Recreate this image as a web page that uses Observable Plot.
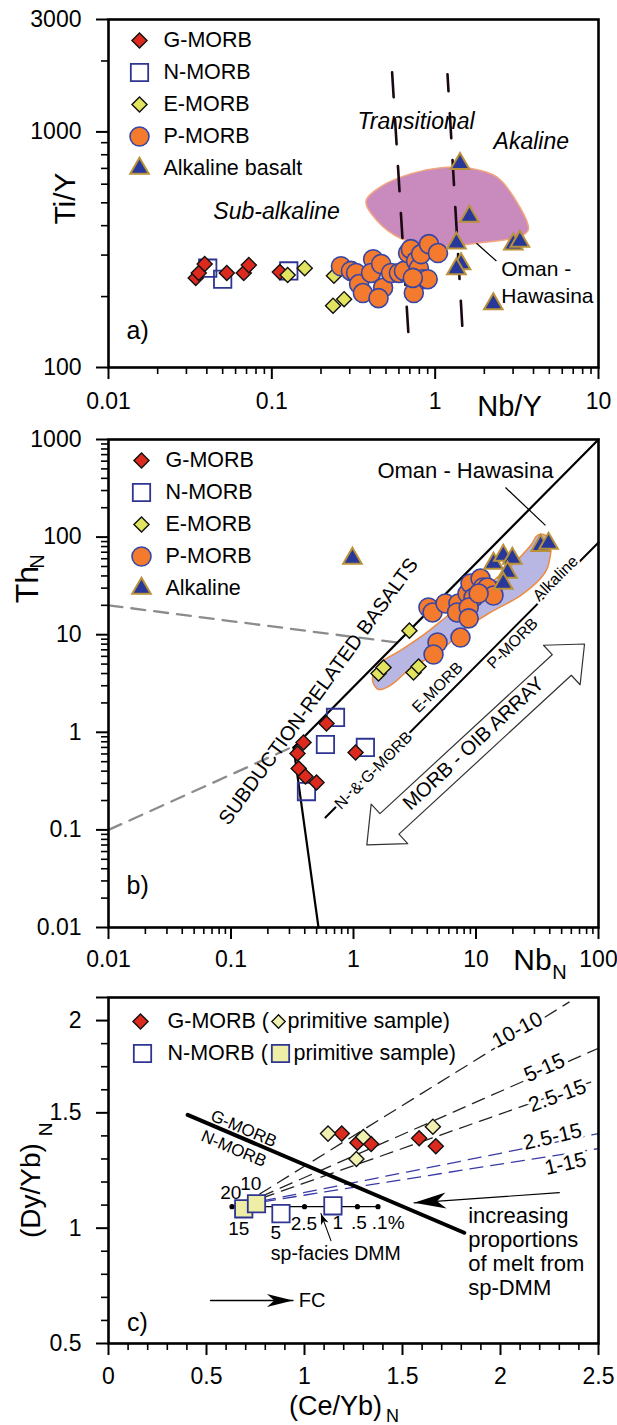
<!DOCTYPE html>
<html>
<head>
<meta charset="utf-8">
<script src="https://cdn.jsdelivr.net/npm/d3@7"></script>
<script src="https://cdn.jsdelivr.net/npm/@observablehq/plot@0.6"></script>
<style>
  html, body { margin: 0; padding: 0; background: #fff; }
  #chart { width: 617px; }
  #chart svg { display: block; }
</style>
</head>
<body>
<div id="chart"></div>
<script>
// ================= DATA =================
// ---- Panel a: Nb/Y (x) vs Ti/Y (y) ----
const aGMorb = [[0.0342,240],[0.0357,252],[0.0388,275],[0.053,252],[0.0673,252],[0.0723,272],[0.112,254]];
const aNMorb = [[0.0405,264],[0.050,237],[0.127,257]];
const aEMorb = [[0.125,247],[0.159,264],[0.240,245],[0.237,183],[0.277,195]];
const aPMorb = [[0.265,269],[0.305,257],[0.328,252],[0.342,226],[0.361,207],[0.417,288],[0.405,252],[0.467,275],
                [0.48,218],[0.45,197],[0.537,252],[0.60,252],[0.644,257],[0.683,306],[0.71,318],[0.764,283],
                [0.795,264],[0.82,303],[0.84,237],[0.74,207],[0.90,237],[0.916,334],[1.04,306],[0.73,240]];
const aAlkaline = [[1.42,733],[1.62,438],[1.35,337],[1.44,275],[1.35,262],[2.27,186],[3.01,334],[3.3,343]];
const aOmanField = [[0.377,507],[0.466,586],[0.713,665],[1.09,705],[1.66,700],[2.37,646],[3.01,532],[3.72,386],
                    [3.35,361],[1.79,337],[1.09,327],[0.618,353],[0.434,425]];
const aDividerLeft = [[0.545,1790],[0.693,124]];
const aDividerRight = [[1.19,1757],[1.48,134]];
const aOmanLeader = [{x1:1.79, y1:337, x2:2.37, y2:283}];
const aFieldLabels = [{x:0.764, y:1103, text:"Transitional"},{x:3.88, y:908, text:"Akaline"},{x:0.107, y:460, text:"Sub-alkaline"}];
const aOmanLabels = [{x:2.54, y:262, text:"Oman -"},{x:2.54, y:201, text:"Hawasina"}];
const aPanelLabel = [{x:0.0151, y:143, text:"a)"}];
const aXTicks = [0.01, 0.1, 1, 10];
const aYTicks = [100, 1000, 3000];
const aLegend = ["G-MORB","N-MORB","E-MORB","P-MORB","Alkaline basalt"];

// ---- Panel b: Nb_N (x) vs Th_N (y) ----
const bGMorb = [[0.391,0.787],[0.349,0.607],[0.357,0.426],[0.405,0.352],[0.499,0.306],[0.602,1.23],[1.04,0.62]];
const bNMorb = [[0.713,1.42],[0.590,0.75],[1.25,0.70],[0.413,0.247]];
const bEMorb = [[1.60,4.01],[1.76,4.61],[3.09,4.10],[3.40,4.72],[2.86,11.0]];
const bPMorb = [[4.09,19.0],[4.42,16.9],[5.64,20.9],[7.19,20.9],[7.0,16.9],[8.53,26.4],[9.02,33.5],[9.55,24.0],
                [8.72,19.0],[8.72,14.7],[10.9,37.6],[11.4,30.5],[13.6,28.4],[12.4,30.5],[13.9,25.2],[10.5,26.4],
                [4.85,8.32],[7.47,9.35],[4.50,6.27]];
const bAlkaline = [[0.98,60.4],[13.9,53.7],[16.7,64.8],[19.8,60.4],[18.1,43.4],[16.7,33.5],[33.7,82],[39.1,86]];
const bOmanField = [[1.429,3.40],[1.600,4.95],[2.42,6.89],[3.87,10.3],[6.19,16.5],[10.9,28.4],[19.1,50.0],[27.9,82.0],
                    [31.8,104],[36.9,104],[40.6,82],[38.4,48.8],[33.6,37.6],[23.1,25.2],[13.1,16.9],[8.20,11.6],
                    [5.13,6.89],[2.92,4.51],[2.00,3.02],[1.60,2.75]];
const bSubductionLine = [[0.324,0.70],[100,1000]];
const bSteepLine = [[0.324,0.70],[0.518,0.01]];
const bArrayLine = [[0.59,0.134],[100,88]];
const bGrayUpper = [[0.01,20],[2.29,8.3]];
const bGrayLower = [[0.01,0.1],[0.31,0.70]];
const bArrayArrow = [[1.285,0.0702],[1.394,0.1837],[1.645,0.1469],[41.9,6.24],[35.6,7.80],[76.9,8.03],
                     [70.8,3.07],[60.0,3.84],[2.35,0.0904],[2.77,0.0722],[1.285,0.0702]];
const bOmanLeader = [{x1:17.4, y1:322, x2:36.9, y2:132}];
const bArrayLabels = [{x:1.46, y:0.406, text:"N- & G-MORB"},{x:4.85, y:2.88, text:"E-MORB"},
                      {x:19.9, y:8.13, text:"P-MORB"},{x:44.6, y:37.7, text:"Alkaline"}];
const bOmanLabel = [{x:8.2, y:481, text:"Oman - Hawasina"}];
const bSubductionLabel = [{x:0.518, y:2.62, text:"SUBDUCTION-RELATED BASALTS"}];
const bMorbOibLabel = [{x:9.55, y:0.767, text:"MORB - OIB ARRAY"}];
const bPanelLabel = [{x:0.0173, y:0.0269, text:"b)"}];
const bXTicks = [0.01, 0.1, 1, 10, 100];
const bYTicks = [0.01, 0.1, 1, 10, 100, 1000];
const bLegend = ["G-MORB","N-MORB","E-MORB","P-MORB","Alkaline"];

// ---- Panel c: (Ce/Yb)_N (x) vs (Dy/Yb)_N (y) ----
const cGMorb = [[1.19,1.41],[1.27,1.37],[1.34,1.365],[1.585,1.39],[1.67,1.355]];
const cGPrimitive = [[1.12,1.41],[1.30,1.395],[1.265,1.30],[1.655,1.44]];
const cNMorb = [[0.88,1.063],[1.145,1.097]];
const cNPrimitive = [[0.69,1.084],[0.755,1.106]];
const cDmmMelt = [[0.63,1.093],[0.68,1.093],[0.74,1.093],[0.86,1.093],[1.0,1.093],[1.16,1.093],[1.27,1.093],[1.375,1.093]];
const cDmmLabels = [{x:0.624,y:1.154,text:"20"},{x:0.726,y:1.193,text:"10"},{x:0.665,y:0.998,text:"15"},
                    {x:0.854,y:0.981,text:"5"},{x:0.997,y:1.02,text:"2.5"},{x:1.17,y:1.024,text:"1"},
                    {x:1.278,y:1.024,text:".5"},{x:1.427,y:1.024,text:".1%"}];
const cMixOrigin = [0.68, 1.10];
const cMixBlack = [{end:[2.35,1.98], label:"10-10", lx:2.086, ly:1.859},
                   {end:[2.5,1.78], label:"5-15", lx:2.224, ly:1.695},
                   {end:[2.5,1.645], label:"2.5-15", lx:2.29, ly:1.574}];
const cMixBlue = [{end:[2.5,1.41], label:"2.5-15", lx:2.265, ly:1.396},
                  {end:[2.5,1.345], label:"1-15", lx:2.331, ly:1.279}];
const cDivider = [[0.404,1.491],[1.815,0.98]];
const cDividerLabels = [{x:0.690, y:1.431, text:"G-MORB"},{x:0.639, y:1.344, text:"N-MORB"}];
const cIncArrow = [[2.30,1.154],[1.559,1.110]];
const cIncText = [{x:1.835, y:0.900, text:"increasing\nproportions\nof melt from\nsp-DMM"}];
const cDmmArrow = [[1.135,0.946],[1.084,1.063]];
const cDmmText = [{x:1.16, y:0.890, text:"sp-facies DMM"}];
const cFcArrow = [[0.521,0.686],[0.941,0.686]];
const cFcText = [{x:0.971, y:0.686, text:"FC"}];
const cPanelLabel = [{x:0.148, y:0.591, text:"c)"}];
const cXTicks = [0, 0.5, 1, 1.5, 2, 2.5];
const cYTicks = [0.5, 1, 1.5, 1.9, 2.0];
const cYTickLabels = ["0.5", "1", "1.5", "2", ""];

// ================= HELPERS =================
const X = d => d[0], Y = d => d[1];
const FONT = "'Liberation Sans', Arial, Helvetica, sans-serif";
const baseStyle = {fontFamily: FONT, fontSize: "21px", background: "white", overflow: "visible", color: "black"};

function logMinor(lo, hi) {
  const out = [];
  for (let e = Math.round(Math.log10(lo)); e < Math.log10(hi); e++)
    for (let m = 2; m <= 9; m++) { const v = +(m * Math.pow(10, e)).toPrecision(6); if (v > lo && v < hi) out.push(v); }
  return out;
}
function linMinor(lo, hi, step, majors) {
  const out = [];
  for (let v = lo; v <= hi + 1e-9; v += step) {
    const r = +v.toFixed(4);
    if (!majors.some(m => Math.abs(m - r) < 1e-6)) out.push(r);
  }
  return out;
}
function axes(xMajor, xMinor, yMajor, yMinor, xFmt, yFmt, xPad) {
  return [
    Plot.axisX(xMinor, {tickSize: 7, tickFormat: () => "", strokeWidth: 1.6, stroke: "black", label: null}),
    Plot.axisX(xMajor, {tickSize: 12, tickPadding: xPad, tickFormat: xFmt, fontSize: 23, strokeWidth: 2, stroke: "black", label: null}),
    Plot.axisY(yMinor, {tickSize: 7, tickFormat: () => "", strokeWidth: 1.6, stroke: "black", label: null}),
    Plot.axisY(yMajor, {tickSize: 12, tickPadding: 15, tickFormat: yFmt, fontSize: 23, strokeWidth: 2, stroke: "black", label: null}),
    Plot.frame({stroke: "black", strokeWidth: 2.6})
  ];
}
function head(len, hw, deg) {
  const a = deg * Math.PI / 180, c = Math.cos(a), s = Math.sin(a);
  const pts = [[0,0],[-len,-hw],[-0.72*len,0],[-len,hw]];
  return {draw(ctx) {
    pts.forEach(([px, py], i) => {
      const qx = px * c - py * s, qy = px * s + py * c;
      if (i === 0) ctx.moveTo(qx, qy); else ctx.lineTo(qx, qy);
    });
    ctx.closePath();
  }};
}
const sym = {
  g: {symbol: "diamond2", r: 6.8, fill: "#dc2a1f", stroke: "#111", strokeWidth: 1.4},
  n: {symbol: "square", r: 9.8, fill: "none", stroke: "#2f3592", strokeWidth: 1.8},
  e: {symbol: "diamond2", r: 6.8, fill: "#e2e35e", stroke: "#111", strokeWidth: 1.4},
  p: {symbol: "circle", r: 9.5, fill: "#f47b2d", stroke: "#3546a6", strokeWidth: 1.6},
  k: {symbol: "triangle", r: 6.9, fill: "#27379a", stroke: "#b9913a", strokeWidth: 2}
};
function label(str, dx, dy, opts = {}) {
  return Plot.text([str], {frameAnchor: "top-left", dx, dy, text: d => d, textAnchor: "middle", lineAnchor: "middle", ...opts});
}
function legend(names, styles, dxMark, dxText, dy0, step) {
  const marks = [];
  names.forEach((name, i) => {
    marks.push(Plot.dot([name], {frameAnchor: "top-left", dx: dxMark, dy: dy0 + i * step, ...styles[i]}));
    marks.push(label(name, dxText, dy0 + i * step, {textAnchor: "start", fontSize: 21.5}));
  });
  return marks;
}
const fmt = d => String(d);

// ================= PANEL A =================
const plotA = Plot.plot({
  width: 617, height: 420, marginLeft: 108, marginRight: 19, marginTop: 19, marginBottom: 53,
  style: baseStyle,
  x: {type: "log", domain: [0.01, 10]},
  y: {type: "log", domain: [100, 3000]},
  marks: [
    Plot.line(aOmanField, {x: X, y: Y, curve: "catmull-rom-closed", fill: "#c98bbd", stroke: "#f2a57e", strokeWidth: 1.5}),
    Plot.line(aDividerLeft, {x: X, y: Y, stroke: "#1a0814", strokeWidth: 2.6, strokeDasharray: "25,22"}),
    Plot.line(aDividerRight, {x: X, y: Y, stroke: "#1a0814", strokeWidth: 2.6, strokeDasharray: "25,22", strokeDashoffset: 8}),
    Plot.link(aOmanLeader, {x1: "x1", y1: "y1", x2: "x2", y2: "y2", stroke: "black", strokeWidth: 1.2}),
    Plot.text(aFieldLabels, {x: "x", y: "y", text: "text", fontSize: 23, fontStyle: "italic"}),
    Plot.text(aOmanLabels, {x: "x", y: "y", text: "text", fontSize: 21, textAnchor: "start"}),
    Plot.text(aPanelLabel, {x: "x", y: "y", text: "text", fontSize: 25}),
    Plot.dot(aNMorb, {x: X, y: Y, ...sym.n}),
    Plot.dot(aGMorb, {x: X, y: Y, ...sym.g}),
    Plot.dot(aEMorb, {x: X, y: Y, ...sym.e}),
    Plot.dot(aPMorb, {x: X, y: Y, ...sym.p}),
    Plot.dot(aAlkaline, {x: X, y: Y, ...sym.k}),
    ...legend(aLegend, [sym.g, sym.n, sym.e, sym.p, sym.k], 31, 55, 21, 32),
    label("Ti/Y", -43, 179, {rotate: -90, fontSize: 30}),
    label("Nb/Y", 401, 387, {fontSize: 29}),
    ...axes(aXTicks, logMinor(0.01, 10), aYTicks, logMinor(100, 3000), fmt, fmt, 13)
  ]
});

// ================= PANEL B =================
const plotB = Plot.plot({
  width: 617, height: 565, marginLeft: 108, marginRight: 19, marginTop: 19, marginBottom: 58,
  style: baseStyle,
  x: {type: "log", domain: [0.01, 100]},
  y: {type: "log", domain: [0.01, 1000]},
  marks: [
    Plot.line(bOmanField, {x: X, y: Y, curve: "catmull-rom-closed", fill: "#b8b7e3", stroke: "#f08a3c", strokeWidth: 1.5}),
    Plot.line(bGrayUpper, {x: X, y: Y, stroke: "#8c8c8c", strokeWidth: 2.3, strokeDasharray: "14,9"}),
    Plot.line(bGrayLower, {x: X, y: Y, stroke: "#8c8c8c", strokeWidth: 2.3, strokeDasharray: "14,9"}),
    Plot.line(bSubductionLine, {x: X, y: Y, stroke: "black", strokeWidth: 2.2}),
    Plot.line(bSteepLine, {x: X, y: Y, stroke: "black", strokeWidth: 2.2}),
    Plot.line(bArrayLine, {x: X, y: Y, stroke: "black", strokeWidth: 2}),
    Plot.line(bArrayArrow, {x: X, y: Y, fill: "white", stroke: "#333", strokeWidth: 1.2}),
    Plot.link(bOmanLeader, {x1: "x1", y1: "y1", x2: "x2", y2: "y2", stroke: "black", strokeWidth: 1.2}),
    Plot.text(bArrayLabels, {x: "x", y: "y", text: "text", fontSize: 16, rotate: -45, stroke: "white", strokeWidth: 5, fill: "black"}),
    Plot.text(bOmanLabel, {x: "x", y: "y", text: "text", fontSize: 22}),
    Plot.text(bSubductionLabel, {x: "x", y: "y", text: "text", fontSize: 20, rotate: -54}),
    Plot.text(bMorbOibLabel, {x: "x", y: "y", text: "text", fontSize: 20, rotate: -43}),
    Plot.text(bPanelLabel, {x: "x", y: "y", text: "text", fontSize: 25}),
    Plot.dot(bNMorb, {x: X, y: Y, ...sym.n}),
    Plot.dot(bGMorb, {x: X, y: Y, ...sym.g}),
    Plot.dot(bEMorb, {x: X, y: Y, ...sym.e}),
    Plot.dot(bPMorb, {x: X, y: Y, ...sym.p}),
    Plot.dot(bAlkaline, {x: X, y: Y, ...sym.k}),
    ...legend(bLegend, [sym.g, sym.n, sym.e, sym.p, sym.k], 33, 57, 21, 32),
    label("Th", -81, 145, {rotate: -90, fontSize: 32}),
    label("N", -71, 122, {rotate: -90, fontSize: 20}),
    label("Nb", 424, 521, {fontSize: 30}),
    label("N", 451, 533, {fontSize: 20}),
    ...axes(bXTicks, logMinor(0.01, 100), bYTicks, logMinor(0.01, 1000), fmt, fmt, 11)
  ]
});

// ================= PANEL C =================
const mixLines = (arr) => arr.map(d => [cMixOrigin, d.end]);
const cSym = {
  g: {symbol: "diamond2", r: 6.8, fill: "#dc2a1f", stroke: "#111", strokeWidth: 1.4},
  gp: {symbol: "diamond2", r: 6.8, fill: "#f0f0b0", stroke: "#111", strokeWidth: 1.4},
  n: {symbol: "square", r: 9.8, fill: "white", stroke: "#2f3592", strokeWidth: 1.8},
  np: {symbol: "square", r: 9.8, fill: "#eeeea6", stroke: "#2f3592", strokeWidth: 1.8}
};
const plotC = Plot.plot({
  width: 617, height: 440, marginLeft: 108, marginRight: 19, marginTop: 12, marginBottom: 82,
  style: baseStyle,
  x: {type: "linear", domain: [0, 2.5]},
  y: {type: "linear", domain: [0.5, 2.0]},
  marks: [
    ...mixLines(cMixBlack).map(seg => Plot.line(seg, {x: X, y: Y, stroke: "#222", strokeWidth: 1.3, strokeDasharray: "13,8"})),
    ...mixLines(cMixBlue).map(seg => Plot.line(seg, {x: X, y: Y, stroke: "#3a3aa8", strokeWidth: 1.3, strokeDasharray: "13,8"})),
    Plot.line(cDmmMelt, {x: X, y: Y, stroke: "black", strokeWidth: 1.3}),
    Plot.dot(cDmmMelt, {x: X, y: Y, r: 2.6, fill: "black", stroke: "none"}),
    Plot.line(cDivider, {x: X, y: Y, stroke: "black", strokeWidth: 4}),
    Plot.line(cIncArrow, {x: X, y: Y, stroke: "black", strokeWidth: 1.2}),
    Plot.dot([cIncArrow[1]], {x: X, y: Y, symbol: head(32, 8, 176), fill: "black", stroke: "none"}),
    Plot.line(cDmmArrow, {x: X, y: Y, stroke: "black", strokeWidth: 1.1}),
    Plot.dot([cDmmArrow[1]], {x: X, y: Y, symbol: head(11, 4, -110), fill: "black", stroke: "none"}),
    Plot.line(cFcArrow, {x: X, y: Y, stroke: "black", strokeWidth: 1.5}),
    Plot.dot([cFcArrow[1]], {x: X, y: Y, symbol: head(26, 6.5, 0), fill: "black", stroke: "none"}),
    Plot.text(cMixBlack, {x: "lx", y: "ly", text: "label", fontSize: 21, rotate: -28, stroke: "white", strokeWidth: 6, fill: "black", filter: (d, i) => i === 0}),
    Plot.text(cMixBlack, {x: "lx", y: "ly", text: "label", fontSize: 21, rotate: -24, stroke: "white", strokeWidth: 6, fill: "black", filter: (d, i) => i === 1}),
    Plot.text(cMixBlack, {x: "lx", y: "ly", text: "label", fontSize: 21, rotate: -20, stroke: "white", strokeWidth: 6, fill: "black", filter: (d, i) => i === 2}),
    Plot.text(cMixBlue, {x: "lx", y: "ly", text: "label", fontSize: 21, rotate: -13, stroke: "white", strokeWidth: 6, fill: "black"}),
    Plot.text(cDividerLabels, {x: "x", y: "y", text: "text", fontSize: 17, rotate: 23}),
    Plot.text(cDmmLabels, {x: "x", y: "y", text: "text", fontSize: 19}),
    Plot.text(cDmmText, {x: "x", y: "y", text: "text", fontSize: 19.5}),
    Plot.text(cIncText, {x: "x", y: "y", text: "text", fontSize: 22, textAnchor: "start", lineHeight: 1.1}),
    Plot.text(cFcText, {x: "x", y: "y", text: "text", fontSize: 20, textAnchor: "start"}),
    Plot.text(cPanelLabel, {x: "x", y: "y", text: "text", fontSize: 25}),
    Plot.dot(cNMorb, {x: X, y: Y, ...cSym.n}),
    Plot.dot(cNPrimitive, {x: X, y: Y, ...cSym.np}),
    Plot.dot(cGMorb, {x: X, y: Y, ...cSym.g}),
    Plot.dot(cGPrimitive, {x: X, y: Y, ...cSym.gp}),
    // legend
    Plot.dot(["G-MORB"], {frameAnchor: "top-left", dx: 32, dy: 24, ...cSym.g}),
    label("G-MORB (", 59, 24, {textAnchor: "start", fontSize: 21.5}),
    Plot.dot(["prim"], {frameAnchor: "top-left", dx: 170, dy: 24, ...cSym.gp, r: 6.0}),
    label("primitive sample)", 179, 24, {textAnchor: "start", fontSize: 21.5}),
    Plot.dot(["N-MORB"], {frameAnchor: "top-left", dx: 34, dy: 56, ...cSym.n}),
    label("N-MORB (", 59, 56, {textAnchor: "start", fontSize: 21.5}),
    Plot.dot(["primN"], {frameAnchor: "top-left", dx: 172, dy: 56, ...cSym.np}),
    label("primitive sample)", 185, 56, {textAnchor: "start", fontSize: 21.5}),
    label("(Dy/Yb)", -77, 193, {rotate: -90, fontSize: 28}),
    label("N", -63, 132, {rotate: -90, fontSize: 19}),
    label("(Ce/Yb)", 227, 409, {fontSize: 27}),
    label("N", 284, 419, {fontSize: 18}),
    ...axes(cXTicks, linMinor(0, 2.5, 0.1, cXTicks), cYTicks, linMinor(0.5, 2.0, 0.1, cYTicks),
            d => String(d), d => cYTickLabels[cYTicks.indexOf(d)] ?? "", 12)
  ]
});

document.getElementById("chart").append(plotA, plotB, plotC);
</script>
</body>
</html>
